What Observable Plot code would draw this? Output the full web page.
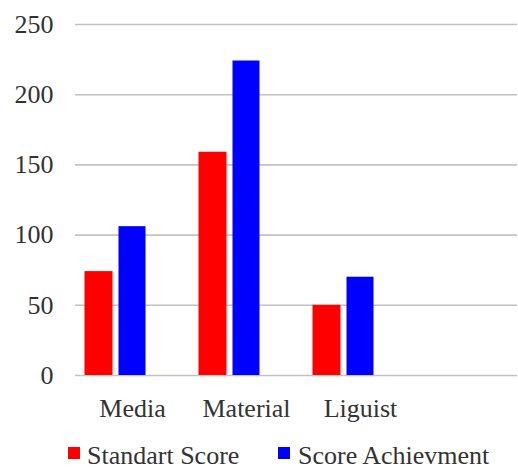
<!DOCTYPE html>
<html>
<head>
<meta charset="utf-8">
<script src="https://cdn.jsdelivr.net/npm/d3@7"></script>
<script src="https://cdn.jsdelivr.net/npm/@observablehq/plot@0.6"></script>
<style>
  html, body { margin: 0; padding: 0; background: #fff; }
  #chart { width: 518px; font-family: "Liberation Serif", "Times New Roman", serif; color: #333; }
  #chart svg { display: block; }
  .legend { position: relative; width: 518px; height: 41px; font-size: 26px; line-height: 26px; }
  .legend .swatch { position: absolute; top: 17px; width: 12px; height: 12px; }
  .legend .label { position: absolute; top: 13px; white-space: nowrap; }
</style>
</head>
<body>
<div id="chart"></div>
<script>
// Scores per aspect
const categories = ["Media", "Material", "Liguist"];
const standartScore = [74, 159, 50];
const scoreAchievment = [106, 224, 70];
const yTicks = [0, 50, 100, 150, 200, 250];
const seriesNames = ["Standart Score", "Score Achievment"];
const seriesColors = ["#ff0000", "#0000ff"];

const rows = categories.map((category, i) => ({
  category,
  standart: standartScore[i],
  achievment: scoreAchievment[i]
}));

const chart = Plot.plot({
  width: 518,
  height: 430,
  marginTop: 24,
  marginBottom: 55,
  marginLeft: 75,
  marginRight: 1,
  style: { fontFamily: "'Liberation Serif', 'Times New Roman', serif", color: "#333", background: "#fff" },
  x: { domain: categories, range: [74.5, 416.5], padding: 0, label: null },
  y: { domain: [0, 250], label: null },
  marks: [
    Plot.ruleY(yTicks, { stroke: "#c2c2c2", strokeWidth: 1.6 }),
    Plot.barY(rows, { x: "category", y: "standart", fill: seriesColors[0], insetLeft: 9.5, insetRight: 76.5 }),
    Plot.barY(rows, { x: "category", y: "achievment", fill: seriesColors[1], insetLeft: 43.5, insetRight: 43.5 }),
    Plot.axisX({ tickSize: 0, tickPadding: 23.5, fontSize: 26, label: null }),
    Plot.axisY({ ticks: yTicks, tickSize: 0, tickPadding: 22, fontSize: 26, label: null })
  ]
});

const root = document.getElementById("chart");
root.appendChild(chart);

// Legend row under the plot
const legend = document.createElement("div");
legend.className = "legend";
const legendPos = [{ swatch: 68, label: 87 }, { swatch: 278, label: 298 }];
seriesNames.forEach((name, i) => {
  const sw = document.createElement("span");
  sw.className = "swatch";
  sw.style.left = legendPos[i].swatch + "px";
  sw.style.background = seriesColors[i];
  const lb = document.createElement("span");
  lb.className = "label";
  lb.style.left = legendPos[i].label + "px";
  lb.textContent = name;
  legend.appendChild(sw);
  legend.appendChild(lb);
});
root.appendChild(legend);
</script>
</body>
</html>
